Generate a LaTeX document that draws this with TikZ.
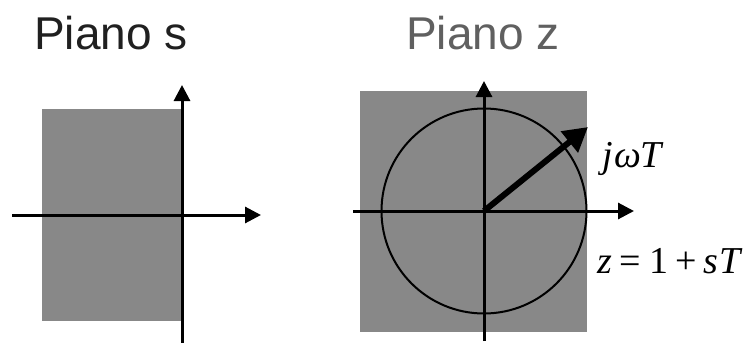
\documentclass[tikz,border=0pt]{standalone}
\usepackage{fontspec}
\setmainfont{Liberation Sans}
\newfontfamily\timesf{Liberation Serif}
\usetikzlibrary{arrows.meta}
\definecolor{fillgray}{RGB}{136,136,136}
\definecolor{titledark}{RGB}{32,32,32}
\definecolor{titlegray}{RGB}{96,96,96}
\tikzset{
  axis/.style={line width=3pt,-{Triangle[length=16pt,width=16pt]}},
  region/.style={fill=fillgray,draw=none},
  title/.style={anchor=base west,inner sep=0pt,font=\fontsize{46}{50}\selectfont},
  mlabel/.style={anchor=base west,inner sep=0pt,font=\timesf\fontsize{38}{42}\selectfont},
}
\begin{document}
\begin{tikzpicture}[x=1pt,y=-1pt]
\useasboundingbox (0,0) rectangle (753,343);
% left plane
\node[title,text=titledark] (ts) at (34,49) {Piano s};
\fill[region] (42,109) rectangle (182,321);
\coordinate (sxa) at (12,215);
\coordinate (sxb) at (261,215);
\coordinate (sya) at (182,343);
\coordinate (syb) at (182,85);
\draw[axis] (sxa) -- (sxb);
\draw[axis] (sya) -- (syb);
% right plane
\node[title,text=titlegray] (tz) at (406,49) {Piano z};
\fill[region] (360,91) rectangle (587,332);
\node[draw,circle,line width=2pt,minimum size=205pt,inner sep=0pt] (c) at (484,211) {};
\coordinate (zxa) at (353,211);
\coordinate (zxb) at (634,211);
\coordinate (zya) at (484,341);
\coordinate (zyb) at (484,81);
\draw[axis] (zxa) -- (zxb);
\draw[axis] (zya) -- (zyb);
\coordinate (tip) at (588,127);
\draw[line width=6pt,-{Triangle[length=24pt,width=26pt]}] (c.center) -- (tip);
\node[mlabel] (jw) at (602,167) {\textit{j}\kern2pt\textit{ω}\kern-1pt\textit{T}};
\node[mlabel] (zz) at (597,273) {\textit{z}\kern8pt=\kern8pt1\kern7pt+\kern7pt\textit{s}\kern1pt\textit{T}};
\end{tikzpicture}
\end{document}
